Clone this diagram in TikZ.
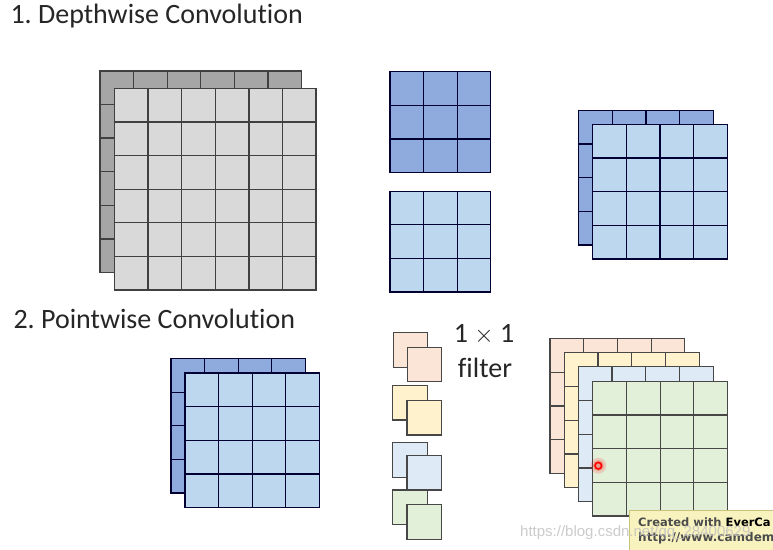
\documentclass[tikz,border=0pt]{standalone}
\usepackage{fontspec}
\setmainfont{Carlito}[Ligatures=NoCommon]
\newfontfamily\markfont{Liberation Sans}
\newfontfamily\camfont{DejaVu Sans}
\frenchspacing
\definecolor{grayback}{HTML}{A6A6A6}
\definecolor{grayfront}{HTML}{D9D9D9}
\definecolor{blueback}{HTML}{8FAADC}
\definecolor{bluefront}{HTML}{BDD7EE}
\definecolor{peach}{HTML}{FBE5D6}
\definecolor{cream}{HTML}{FFF2CC}
\definecolor{ice}{HTML}{DEEBF7}
\definecolor{mint}{HTML}{E2F0D9}
\definecolor{camyellow}{HTML}{F8F3BE}
\definecolor{camedge}{HTML}{C9C27A}

\begin{document}
\begin{tikzpicture}[x=1pt,y=1pt,
  grayline/.style={draw=black!75,line width=1.3pt},
  blueline/.style={draw=black!80!blue,line width=1.3pt},
  softline/.style={draw=black!72,line width=1.2pt},
  title/.style={anchor=base west,font=\fontsize{28}{32}\selectfont,text=black!85}]
\clip (0,0) rectangle (773,549);
\fill[white] (0,0) rectangle (773,549);
% titles
\node[title] (t1) at (7,525) {1. Depthwise Convolution};
\node[title] (t2) at (10,220) {2. Pointwise Convolution};
% input 6x6x2
\filldraw[grayline,fill=grayback,shift={(100,276.5)}] (0,0) rectangle (201.6,201.6) (0,0) grid[step=33.6] (201.7,201.7);
\filldraw[grayline,fill=grayfront,shift={(114.5,259)}] (0,0) rectangle (201.6,201.6) (0,0) grid[step=33.6] (201.7,201.7);
% depthwise kernels 3x3
\filldraw[blueline,fill=blueback,shift={(390,376.5)}] (0,0) rectangle (100.8,100.8) (0,0) grid[step=33.6] (100.9,100.9);
\filldraw[blueline,fill=bluefront,shift={(390,257)}] (0,0) rectangle (100.8,100.8) (0,0) grid[step=33.6] (100.9,100.9);
% depthwise output 4x4x2
\filldraw[blueline,fill=blueback,shift={(578.5,304)}] (0,0) rectangle (134.8,134.8) (0,0) grid[step=33.7] (134.9,134.9);
\filldraw[blueline,fill=bluefront,shift={(592.5,290)}] (0,0) rectangle (134.8,134.8) (0,0) grid[step=33.7] (134.9,134.9);
% pointwise input 4x4x2
\filldraw[blueline,fill=blueback,shift={(171,56)}] (0,0) rectangle (134.4,134.4) (0,0) grid[step=33.6] (134.5,134.5);
\filldraw[blueline,fill=bluefront,shift={(185,41.5)}] (0,0) rectangle (134.4,134.4) (0,0) grid[step=33.6] (134.5,134.5);
% 1x1 filters
\filldraw[softline,fill=peach] (393.3,181.7) rectangle +(34.5,34.5);
\filldraw[softline,fill=peach] (407.3,167.3) rectangle +(34.5,34.5);
\filldraw[softline,fill=cream] (392.7,129) rectangle +(34.5,34.5);
\filldraw[softline,fill=cream] (407,114) rectangle +(34.5,34.5);
\filldraw[softline,fill=ice] (392.7,71.7) rectangle +(34.5,34.5);
\filldraw[softline,fill=ice] (407,59) rectangle +(34.5,34.5);
\filldraw[softline,fill=mint] (392.7,24.5) rectangle +(34.5,34.5);
\filldraw[softline,fill=mint] (407,9.7) rectangle +(34.5,34.5);
\node[font=\fontsize{28}{32}\selectfont,text=black!85] (size) at (484,214) {1 $\times$ 1};
\node[font=\fontsize{28}{32}\selectfont,text=black!85] (filt) at (485,181) {filter};
% pointwise output 4x4x4
\filldraw[softline,fill=peach,shift={(550,75.7)}] (0,0) rectangle (134.8,134.8) (0,0) grid[step=33.7] (134.9,134.9);
\filldraw[softline,fill=cream,shift={(564.3,61.3)}] (0,0) rectangle (134.8,134.8) (0,0) grid[step=33.7] (134.9,134.9);
\filldraw[softline,fill=ice,shift={(578.3,47.3)}] (0,0) rectangle (134.8,134.8) (0,0) grid[step=33.7] (134.9,134.9);
\filldraw[softline,fill=mint,shift={(592.7,33)}] (0,0) rectangle (134.8,134.8) (0,0) grid[step=33.7] (134.9,134.9);
% cursor
\fill[red,opacity=0.15] (598.3,83.3) circle (8);
\fill[red,opacity=0.25] (598.3,83.3) circle (5.5);
\draw[red,line width=1.6pt] (598.3,83.3) circle (3.3);
% screen recorder label
\filldraw[fill=camyellow,draw=camedge,line width=1pt] (629.3,38.3) rectangle (790,-5);
\node[anchor=base west,inner sep=0pt,font=\camfont\fontsize{11.5}{12}\selectfont\bfseries,text=black!70] (cam1) at (638,22.5) {Created with \textcolor{black}{EverCa}};
\node[anchor=base west,inner sep=0pt,font=\camfont\fontsize{12}{12}\selectfont\bfseries,text=black!70] (cam2) at (638,7.5) {http://www.camdem};
% watermark
\node[anchor=base west,inner sep=0pt,font=\markfont\fontsize{15}{16}\selectfont,text=black!25,opacity=0.8] (mark) at (520,13) {https://blog.csdn.net/qq\_28400629};
\end{tikzpicture}
\end{document}
